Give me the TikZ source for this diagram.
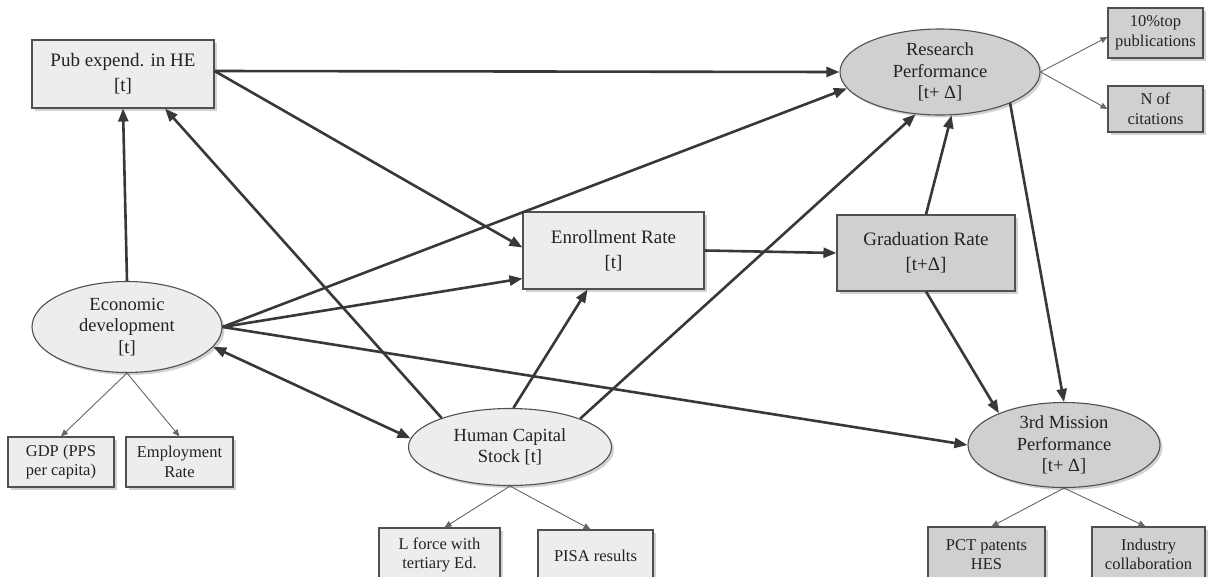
\documentclass[tikz,border=0pt]{standalone}
\usepackage{fontspec}
\setmainfont{Liberation Serif}
\usetikzlibrary{shapes.geometric,arrows.meta,shadows}
\definecolor{edgegray}{HTML}{383838}
\definecolor{thingray}{HTML}{666666}
\definecolor{rimgray}{HTML}{505050}
\definecolor{lightfill}{HTML}{EDEDED}
\definecolor{darkfill}{HTML}{D0D0D0}
\definecolor{inkgray}{HTML}{222222}
\begin{document}
\begin{tikzpicture}[x=1pt,y=-1pt,
  boxshadow/.style={drop shadow={shadow xshift=2.5pt,shadow yshift=-2.5pt,opacity=0.35}},
  rectbox/.style={rectangle, draw=rimgray, line width=1.1pt, inner sep=0pt,
    align=center, text=inkgray, boxshadow},
  bigbox/.style={rectbox, font=\fontsize{19}{25}\selectfont},
  smallbox/.style={rectbox, font=\fontsize{16.5}{19.5}\selectfont},
  ovalnode/.style={ellipse, draw=rimgray, line width=1.1pt, inner xsep=0pt,
    inner ysep=-14pt, align=center, text=inkgray,
    font=\fontsize{18.5}{21.5}\selectfont, boxshadow},
  mainarrow/.style={draw=edgegray, line width=2.6pt,
    -{Triangle[length=13pt,width=10pt]}},
  twoway/.style={draw=edgegray, line width=2.6pt,
    {Triangle[length=13pt,width=10pt]}-{Triangle[length=13pt,width=10pt]}},
  thinarrow/.style={draw=thingray, line width=0.9pt,
    -{Triangle[length=7pt,width=6pt]}}
]
\path[use as bounding box, fill=white] (0,0) rectangle (1208,576);

% latent constructs and main indicators
\node[bigbox, fill=lightfill, minimum width=182pt, minimum height=68pt] (pub) at (123,74)
  {Pub expend. in HE\\{[t]}};
\node[bigbox, fill=lightfill, minimum width=181pt, minimum height=77pt] (enr) at (613.5,250.5)
  {Enrollment Rate\\{[t]}};
\node[bigbox, fill=darkfill, minimum width=178pt, minimum height=76pt] (grad) at (926,253)
  {Graduation Rate\\{[t+Δ]}};

\node[ovalnode, fill=darkfill, minimum width=200pt, minimum height=86pt] (res) at (940,72)
  {Research\\Performance\\{[t+ Δ]}};
\node[ovalnode, fill=lightfill, minimum width=190pt, minimum height=91pt] (econ) at (127,327)
  {Economic\\development\\{[t]}};
\node[ovalnode, fill=lightfill, minimum width=203pt, minimum height=77pt] (hcap) at (510,447)
  {Human Capital\\Stock [t]};
\node[ovalnode, fill=darkfill, minimum width=192pt, minimum height=85pt] (third) at (1064,445)
  {3rd Mission\\Performance\\{[t+ Δ]}};

% observed measures
\node[smallbox, fill=darkfill, minimum width=95pt, minimum height=50pt] (top10) at (1155.5,33)
  {10\%top\\publications};
\node[smallbox, fill=darkfill, minimum width=95pt, minimum height=46pt] (ncit) at (1155.5,109)
  {N of\\citations};
\node[smallbox, fill=lightfill, minimum width=106pt, minimum height=50pt] (gdp) at (61,462)
  {GDP (PPS\\per capita)};
\node[smallbox, fill=lightfill, minimum width=107pt, minimum height=50pt] (emp) at (179.5,462)
  {Employment\\Rate};
\node[smallbox, fill=lightfill, minimum width=121pt, minimum height=54pt] (lforce) at (439.5,555)
  {L force with\\tertiary Ed.};
\node[smallbox, fill=lightfill, minimum width=115pt, minimum height=52pt] (pisa) at (595.5,556)
  {PISA results};
\node[smallbox, fill=darkfill, minimum width=117pt, minimum height=55pt] (pct) at (986.5,554.5)
  {PCT patents\\HES};
\node[smallbox, fill=darkfill, minimum width=113pt, minimum height=55pt] (ind) at (1148.5,554.5)
  {Industry\\collaboration};

% structural paths
\draw[mainarrow] ([yshift=3pt]pub.east) -- (res.west);
\draw[mainarrow] ([yshift=3pt]pub.east) -- ([yshift=3pt]enr.west);
\draw[mainarrow] (econ.north) -- (pub.south);
\draw[mainarrow] (hcap.157) -- ([xshift=42pt]pub.south);
\draw[mainarrow] (econ.east) -- (res.190);
\draw[mainarrow] (econ.east) -- ([yshift=-28pt]enr.west);
\draw[mainarrow] (econ.east) -- (third.west);
\draw[twoway] (econ.-13) -- (hcap.175);
\draw[mainarrow] (hcap.85) -- ([xshift=-26pt]enr.south);
\draw[mainarrow] (hcap.22) -- (res.240);
\draw[mainarrow] (enr.east) -- (grad.west);
\draw[mainarrow] (grad.north) -- (res.285);
\draw[mainarrow] (res.-24) -- (third.north);
\draw[mainarrow] (grad.south) -- (third.154);

% measurement paths
\draw[thinarrow] (res.east) -- ([yshift=-4pt]top10.west);
\draw[thinarrow] (res.east) -- (ncit.west);
\draw[thinarrow] (econ.south) -- (gdp.north);
\draw[thinarrow] (econ.south) -- (emp.north);
\draw[thinarrow] (hcap.south) -- ([xshift=5pt]lforce.north);
\draw[thinarrow] (hcap.south) -- ([xshift=-5pt]pisa.north);
\draw[thinarrow] (third.south) -- ([xshift=5pt]pct.north);
\draw[thinarrow] (third.south) -- ([xshift=-3pt]ind.north);
\end{tikzpicture}
\end{document}
